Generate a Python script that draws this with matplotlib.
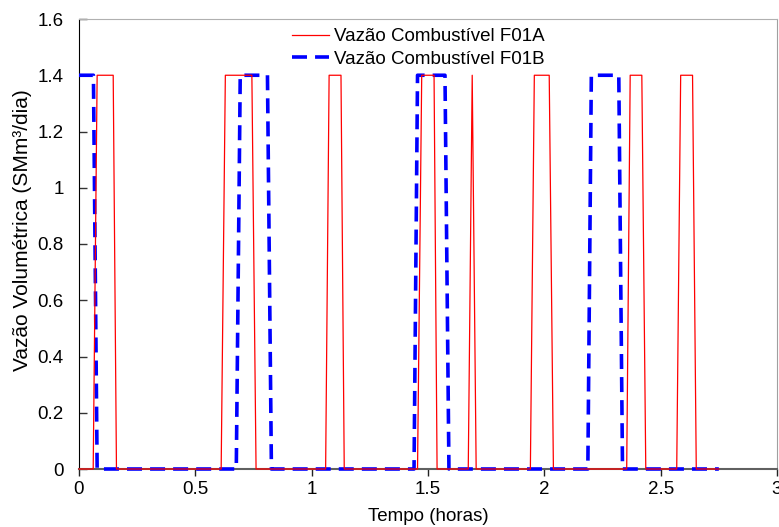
import matplotlib
matplotlib.use("Agg")
import matplotlib.pyplot as plt

plt.rcParams['font.family'] = ['Liberation Sans', 'DejaVu Sans']
plt.rcParams['lines.scale_dashes'] = False

# Vazão Combustível F01A
t_a = [0, 0.061, 0.078, 0.147, 0.161,
       0.611, 0.629, 0.743, 0.761,
       1.060, 1.075, 1.126, 1.140,
       1.455, 1.473, 1.526, 1.539,
       1.673, 1.690, 1.707,
       1.940, 1.957, 2.021, 2.039,
       2.354, 2.369, 2.419, 2.436,
       2.569, 2.586, 2.637, 2.653, 2.75]
v_a = [0, 0, 1.4, 1.4, 0,
       0, 1.4, 1.4, 0,
       0, 1.4, 1.4, 0,
       0, 1.4, 1.4, 0,
       0, 1.4, 0,
       0, 1.4, 1.4, 0,
       0, 1.4, 1.4, 0,
       0, 1.4, 1.4, 0, 0]

# Vazão Combustível F01B
t_b = [0, 0.062, 0.078, 0.676, 0.693, 0.810, 0.827,
       1.440, 1.455, 1.573, 1.590, 2.187, 2.202, 2.320, 2.336, 2.75]
v_b = [1.4, 1.4, 0, 0, 1.4, 1.4, 0,
       0, 1.4, 1.4, 0, 0, 1.4, 1.4, 0, 0]

fig = plt.figure(figsize=(7.79, 5.27), dpi=100)
ax = fig.add_axes([79/779, 1 - 469/527, 698/779, 450/527])

lb, = ax.plot(t_b, v_b, color='#0000ff', lw=2.6, dashes=(10.8, 5.8),
              label='Vazão Combustível F01B', clip_on=False, zorder=3)
la, = ax.plot(t_a, v_a, color='#ff0000', lw=0.9,
              label='Vazão Combustível F01A', clip_on=False, zorder=4)

ax.set_xlim(0, 3)
ax.set_ylim(0, 1.6)
ax.set_xticks([0, 0.5, 1, 1.5, 2, 2.5, 3])
ax.set_xticklabels(['0', '0.5', '1', '1.5', '2', '2.5', '3'])
ax.set_yticks([0, 0.2, 0.4, 0.6, 0.8, 1, 1.2, 1.4, 1.6])
ax.set_yticklabels(['0', '0.2', '0.4', '0.6', '0.8', '1', '1.2', '1.4', '1.6'])

ax.tick_params(axis='x', direction='out', length=5, width=1, colors='#222222',
               labelsize=13.5, pad=4)
ax.tick_params(axis='y', direction='in', length=6, width=1, colors='#333333',
               labelsize=13.5, pad=11)
ax.tick_params(labelcolor='black')

ax.spines['left'].set_color('black')
ax.spines['bottom'].set_color('#606060')
ax.spines['bottom'].set_linewidth(1.5)
ax.spines['top'].set_color('#b0b0b0')
ax.spines['right'].set_color('#a0a0a0')

ax.set_xlabel('Tempo (horas)', fontsize=13.5, labelpad=7)
ax.set_ylabel('Vazão Volumétrica (SMm³/dia)', fontsize=15)
ax.yaxis.set_label_coords(-0.067, 0.531)

ax.legend(handles=[la, lb], loc='upper left', bbox_to_anchor=(0.305, 0.98),
          frameon=False, fontsize=13.5, handlelength=2.0, handletextpad=0.27,
          labelspacing=0.3, borderaxespad=0, borderpad=0)

fig.savefig('out.png', dpi=100)
